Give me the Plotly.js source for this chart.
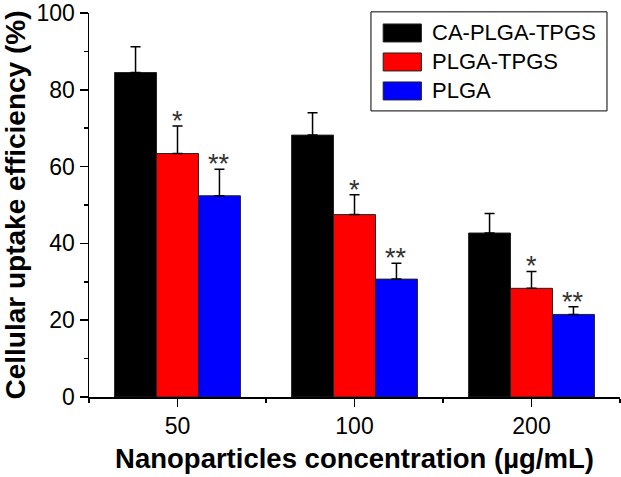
<!DOCTYPE html>
<html>
<head>
<meta charset="utf-8">
<script src="https://cdn.plot.ly/plotly-3.0.1.min.js"></script>
<style>
  html, body { margin: 0; padding: 0; background: #fff; }
  #chart { width: 621px; height: 477px; }
</style>
</head>
<body>
<div id="chart"></div>
<script>
// uptake efficiency (%), one array per formulation
const concentrations = ['50', '100', '200'];
const seriesNames = ['CA-PLGA-TPGS', 'PLGA-TPGS', 'PLGA'];
const seriesColors = ['#000000', '#ff0000', '#0000ff'];
const caPlgaTpgs = [84.5, 68.2, 42.7];
const caPlgaTpgsErr = [6.7, 5.8, 5.1];
const plgaTpgs = [63.4, 47.5, 28.3];
const plgaTpgsErr = [7.2, 5.2, 4.4];
const plga = [52.4, 30.7, 21.5];
const plgaErr = [6.9, 4.1, 2.0];
const yTicks = [0, 20, 40, 60, 80, 100];
// significance marks above each bar (empty = none)
const marks = [
  ['', '', ''],
  ['*', '*', '*'],
  ['**', '**', '**']
];

const values = [caPlgaTpgs, plgaTpgs, plga];
const errors = [caPlgaTpgsErr, plgaTpgsErr, plgaErr];
const font = 'Arial, "Liberation Sans", sans-serif';
const xPos = concentrations.map((_, i) => i);
const barWidth = 0.237;

const traces = values.map((vals, s) => ({
  type: 'bar',
  name: seriesNames[s],
  x: xPos,
  y: vals,
  width: barWidth,
  offset: (s - 1.5) * barWidth,
  marker: { color: seriesColors[s], line: { color: '#222', width: 1 } },
  error_y: {
    type: 'data',
    symmetric: false,
    array: errors[s],
    arrayminus: vals.map(() => 0),
    color: '#000',
    thickness: 1.5,
    width: 5
  },
  showlegend: false,
  hoverinfo: 'name+y'
}));

const annotations = [];
values.forEach((vals, s) => {
  vals.forEach((v, i) => {
    if (!marks[s][i]) return;
    annotations.push({
      x: i + (s - 1) * barWidth,
      y: v + errors[s][i],
      xref: 'x', yref: 'y',
      text: marks[s][i],
      showarrow: false,
      yanchor: 'bottom',
      yshift: -12,
      font: { family: font, size: 27, color: '#333' }
    });
  });
});

// legend drawn by hand so the swatches are as wide as in the original
const shapes = [{
  type: 'rect', xref: 'paper', yref: 'paper',
  x0: 0.531, x1: 0.9755, y0: 0.745, y1: 1.003,
  line: { color: '#000', width: 1 }, fillcolor: '#fff', layer: 'above'
}];
seriesNames.forEach((name, s) => {
  const yc = 0.948 - s * 0.0755;
  shapes.push({
    type: 'rect', xref: 'paper', yref: 'paper',
    x0: 0.554, x1: 0.626, y0: yc - 0.0234, y1: yc + 0.0234,
    line: { color: '#222', width: 1 }, fillcolor: seriesColors[s], layer: 'above'
  });
  annotations.push({
    xref: 'paper', yref: 'paper', x: 0.642, y: yc,
    xanchor: 'left', yanchor: 'middle', showarrow: false,
    text: name, font: { family: font, size: 22, color: '#000' }
  });
});

const layout = {
  width: 621,
  height: 477,
  margin: { l: 89, r: 1, t: 13, b: 80 },
  paper_bgcolor: '#fff',
  plot_bgcolor: '#fff',
  showlegend: false,
  font: { family: font, color: '#000' },
  xaxis: {
    range: [-0.5, 2.5],
    tickmode: 'array',
    tickvals: xPos,
    ticktext: concentrations,
    ticks: 'outside',
    ticklen: 8,
    tickwidth: 1.5,
    tickcolor: '#000',
    minor: { tickmode: 'linear', tick0: 0.5, dtick: 1, ticks: 'outside', ticklen: 4, tickwidth: 1.5, tickcolor: '#000' },
    showline: true,
    linecolor: '#000',
    linewidth: 1.5,
    showgrid: false,
    zeroline: false,
    tickfont: { family: font, size: 23, color: '#000' },
    title: { text: '<b>Nanoparticles concentration (µg/mL)</b>', font: { family: font, size: 27.5, color: '#000' }, standoff: 10 }
  },
  yaxis: {
    range: [0, 100],
    tickmode: 'array',
    tickvals: yTicks,
    ticktext: yTicks.map(String),
    ticklabeloverflow: 'allow',
    ticks: 'outside',
    ticklen: 8,
    tickwidth: 1.5,
    tickcolor: '#000',
    minor: { tickmode: 'linear', tick0: 10, dtick: 20, ticks: 'outside', ticklen: 4, tickwidth: 1.5, tickcolor: '#000' },
    showline: true,
    linecolor: '#000',
    linewidth: 1.5,
    showgrid: false,
    zeroline: false,
    tickfont: { family: font, size: 23, color: '#000' },
    title: { text: '<b>Cellular uptake efficiency (%)</b>', font: { family: font, size: 28, color: '#000' }, standoff: 6 }
  },
  annotations,
  shapes
};

Plotly.newPlot('chart', traces, layout, { displayModeBar: false, staticPlot: true });
</script>
</body>
</html>
